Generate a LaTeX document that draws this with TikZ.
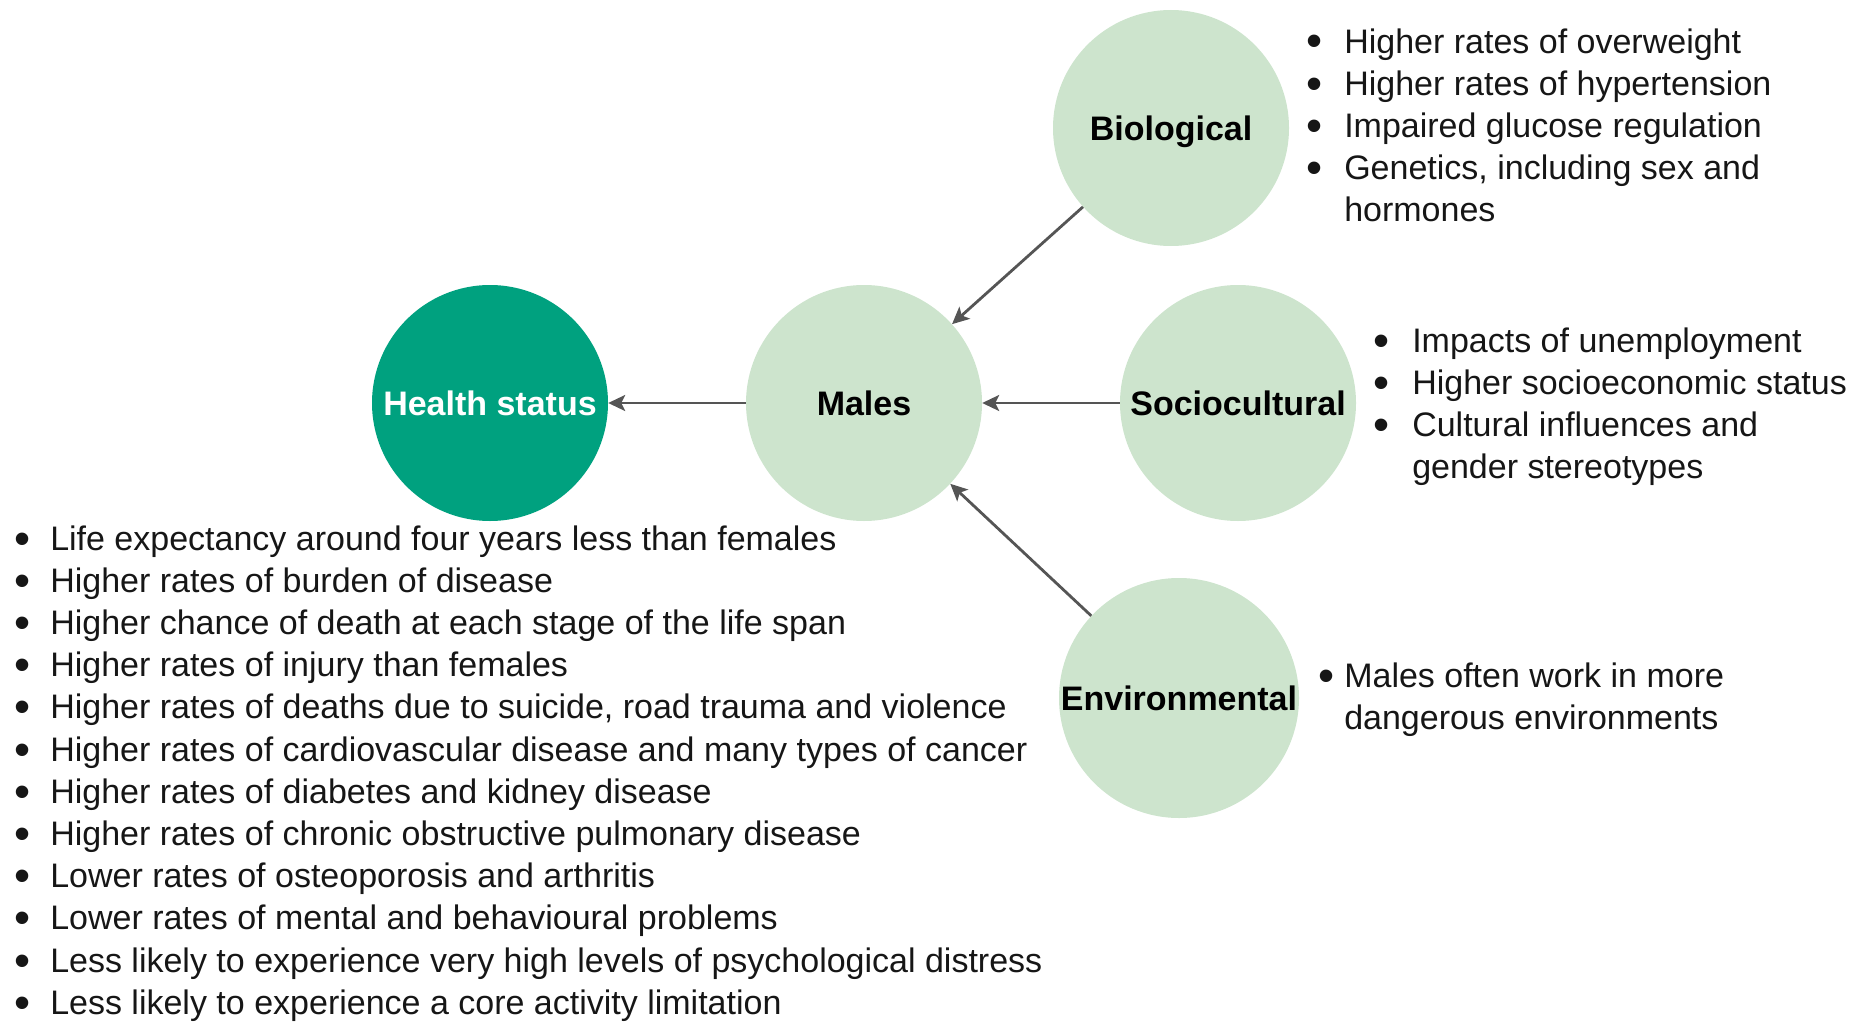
\documentclass[tikz,border=0pt]{standalone}
\usepackage{fontspec}
\setmainfont{Liberation Sans}
\usetikzlibrary{arrows.meta}
\definecolor{deepgreen}{HTML}{00A17F}
\definecolor{palegreen}{HTML}{CDE4CD}
\definecolor{arrowgrey}{HTML}{555555}
\definecolor{inkblack}{HTML}{161616}
% a slightly enlarged list bullet, kept at mid x-height
\newcommand\listdot{\raisebox{-4pt}{\scalebox{1.35}{\textbullet}}}
\begin{document}
\begin{tikzpicture}[x=1pt,y=-1pt,
  factor/.style={circle, fill=palegreen, minimum size=236pt, inner sep=0pt,
    text height=24pt, text depth=0pt,
    font=\fontsize{34}{40}\selectfont\bfseries, text=black},
  outcome/.style={factor, fill=deepgreen, text=white},
  link/.style={draw=arrowgrey, line width=2.8pt,
    -{Stealth[length=17pt,width=16pt,inset=4pt]}},
  points/.style={anchor=base west, inner sep=0pt, text=inkblack,
    font=\fontsize{34}{42.2}\selectfont}]

\useasboundingbox (0,0) rectangle (1871,1025);

% circles
\node[outcome] (health) at (490,403) {Health status};
\node[factor]  (males)  at (864,403) {Males};
\node[factor]  (bio)    at (1171,128) {Biological};
\node[factor]  (soc)    at (1238,403) {Sociocultural};
\node[factor, minimum size=240pt] (env) at (1179,698) {Environmental};

% influences
\draw[link] (males) -- (health);
\draw[link] (bio) -- (males);
\draw[link] (soc) -- (males);
\draw[link] (env) -- (males);

% bullet lists
\node[points] (biolist) at (1306,53) {\begin{tabular}[t]{@{}l@{\hspace{22pt}}l@{}}
\listdot & Higher rates of overweight\\
\listdot & Higher rates of hypertension\\
\listdot & Impaired glucose regulation\\
\listdot & Genetics, including sex and\\
 & hormones
\end{tabular}};

\node[points] (soclist) at (1373,352) {\begin{tabular}[t]{@{}l@{\hspace{23pt}}l@{}}
\listdot & Impacts of unemployment\\
\listdot & Higher socioeconomic status\\
\listdot & Cultural influences and\\
 & gender stereotypes
\end{tabular}};

\node[points] (envlist) at (1318,687) {\begin{tabular}[t]{@{}l@{\hspace{10pt}}l@{}}
\listdot & Males often work in more\\
 & dangerous environments
\end{tabular}};

% long list reaching the lower edge; its box depth is trimmed to the last descender
\node[points, text depth=470pt] (healthlist) at (14,550) {\begin{tabular}[t]{@{}l@{\hspace{20pt}}l@{}}
\listdot & Life expectancy around four years less than females\\
\listdot & Higher rates of burden of disease\\
\listdot & Higher chance of death at each stage of the life span\\
\listdot & Higher rates of injury than females\\
\listdot & Higher rates of deaths due to suicide, road trauma and violence\\
\listdot & Higher rates of cardiovascular disease and many types of cancer\\
\listdot & Higher rates of diabetes and kidney disease\\
\listdot & Higher rates of chronic obstructive pulmonary disease\\
\listdot & Lower rates of osteoporosis and arthritis\\
\listdot & Lower rates of mental and behavioural problems\\
\listdot & Less likely to experience very high levels of psychological distress\\
\listdot & Less likely to experience a core activity limitation
\end{tabular}};

\end{tikzpicture}
\end{document}
